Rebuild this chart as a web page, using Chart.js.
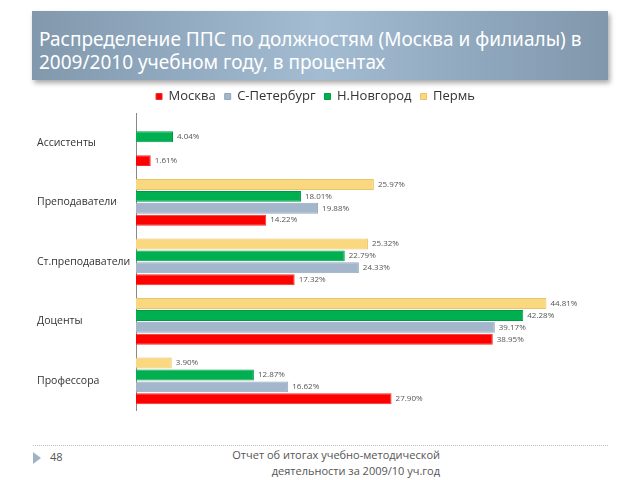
<!DOCTYPE html>
<html>
<head>
<meta charset="utf-8">
<script src="https://cdn.jsdelivr.net/npm/chart.js@4.4.1/dist/chart.umd.min.js"></script>
<style>
  body { margin: 0; width: 640px; height: 480px; background: #fff; position: relative; overflow: hidden; font-family: "Open Sans", sans-serif; }
  .banner {
    position: absolute; left: 32px; top: 11px; width: 576px; height: 69px;
    background: linear-gradient(90deg, #8198ad 0%, #a3bcd2 50%, #8097ac 100%);
    box-shadow: 2px 3px 5px rgba(0,0,0,0.35);
  }
  .banner div {
    position: absolute; left: 7px; top: 17px; color: #fff;
    font-family: "Noto Sans", sans-serif; font-size: 19px; line-height: 23px;
  }
  #wrap { position: absolute; left: 30px; top: 80px; width: 580px; height: 340px; }
  .footline { position: absolute; left: 33px; top: 445px; width: 575px; border-top: 1px dotted #bbb; }
  .tri { position: absolute; left: 33px; top: 452px; width: 0; height: 0;
    border-top: 6px solid transparent; border-bottom: 6px solid transparent; border-left: 8px solid #9fb3c6; }
  .num { position: absolute; left: 50px; top: 449px; font-size: 11px; color: #555; }
  .foot { position: absolute; right: 200px; top: 447px; font-size: 11px; line-height: 16px; color: #555; text-align: right; }
</style>
</head>
<body>
<div class="banner"><div>Распределение ППС по должностям (Москва и филиалы) в<br>2009/2010 учебном году, в процентах</div></div>
<div id="wrap"><canvas id="chart"></canvas></div>
<div class="footline"></div>
<div class="tri"></div>
<div class="num">48</div>
<div class="foot">Отчет об итогах учебно-методической<br>деятельности за 2009/10 уч.год</div>
<script>
const categories = ["Ассистенты", "Преподаватели", "Ст.преподаватели", "Доценты", "Профессора"];
const moskva = [1.61, 14.22, 17.32, 38.95, 27.90];
const spb = [null, 19.88, 24.33, 39.17, 16.62];
const novgorod = [4.04, 18.01, 22.79, 42.28, 12.87];
const perm = [null, 25.97, 25.32, 44.81, 3.90];

// подписи значений справа от полос
const valueLabels = {
  id: 'valueLabels',
  afterDatasetsDraw(chart) {
    const ctx = chart.ctx;
    ctx.save();
    ctx.font = '8px "Open Sans", sans-serif';
    ctx.fillStyle = '#555';
    ctx.textBaseline = 'middle';
    chart.data.datasets.forEach((ds, i) => {
      chart.getDatasetMeta(i).data.forEach((bar, j) => {
        const v = ds.data[j];
        if (v == null) return;
        ctx.fillText(v.toFixed(2) + '%', bar.x + 4, bar.y);
      });
    });
    ctx.restore();
  }
};

new Chart(document.getElementById('chart').getContext('2d'), {
  type: 'bar',
  data: {
    labels: categories,
    datasets: [
      { label: 'Пермь', data: perm, backgroundColor: '#fad87f', borderColor: '#e8c46a', borderWidth: 1 },
      { label: 'Н.Новгород', data: novgorod, backgroundColor: '#00b050', borderColor: '#009a45', borderWidth: 1 },
      { label: 'С-Петербург', data: spb, backgroundColor: '#a3b6cb', borderColor: '#93a6bb', borderWidth: 1 },
      { label: 'Москва', data: moskva, backgroundColor: '#ff0000', borderColor: '#e83030', borderWidth: 1 },
    ],
  },
  options: {
    indexAxis: 'y',
    responsive: true,
    maintainAspectRatio: false,
    animation: false,
    categoryPercentage: 0.8,
    barPercentage: 0.92,
    layout: { padding: { left: 7, right: 16, top: 1, bottom: 8 } },
    plugins: {
      legend: {
        reverse: true,
        labels: { boxWidth: 6, boxHeight: 6, padding: 9, color: '#333', font: { size: 13, family: '"Open Sans", sans-serif' } },
      },
      tooltip: { enabled: false },
    },
    scales: {
      x: { display: false, min: 0, max: 50 },
      y: {
        afterFit: (axis) => { axis.width = 99; },
        grid: { display: false },
        border: { color: '#888' },
        ticks: { crossAlign: 'far', color: '#333', font: { size: 10.5, family: '"Open Sans", sans-serif' } },
      },
    },
  },
  plugins: [valueLabels],
});
</script>
</body>
</html>
